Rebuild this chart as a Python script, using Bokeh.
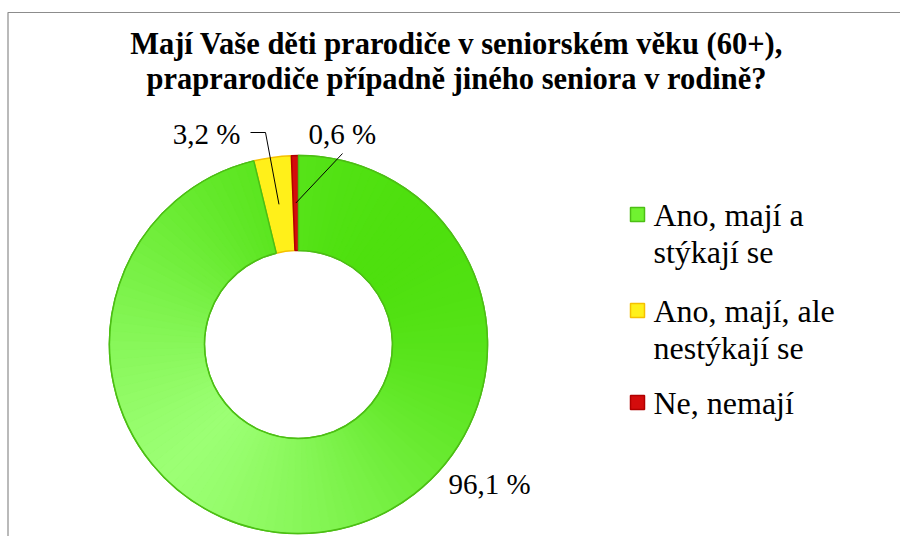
import math
from bokeh.plotting import figure
from bokeh.models import Range1d, ColumnDataSource
from bokeh.embed import file_html
from bokeh.resources import INLINE
from bokeh.core.properties import value

# ---- data ----
title_lines = ["Mají Vaše děti prarodiče v seniorském věku (60+),",
               "praprarodiče případně jiného seniora v rodině?"]
categories = ["Ano, mají a\nstýkají se", "Ano, mají, ale\nnestýkají se", "Ne, nemají"]
shares = [96.1, 3.2, 0.6]
share_labels = ["96,1 %", "3,2 %", "0,6 %"]

# ---- styles / layout ----
fill_colors = ["#70f230", "#fff01a", "#d40c0c"]
line_colors = ["#4cbf14", "#f5c000", "#b00000"]
green_dark, green_light = (0x4e, 0xe0, 0x0e), (0x9c, 0xff, 0x74)
FONT = "Liberation Serif"

W, H = 900, 536
p = figure(width=W, height=H, x_range=Range1d(0, W), y_range=Range1d(0, H),
           output_backend="svg", toolbar_location=None, min_border=0,
           x_axis_location=None, y_axis_location=None)
p.grid.visible = False
p.outline_line_color = None
p.background_fill_color = "white"
p.border_fill_color = "white"

# border (left and top edges)
p.line(x=[7.5, 7.5, W], y=[0, 524, 524], line_color="#8c8c8c", line_width=1.2)

# donut
cx, cy, r_in, r_out = 298, 192, 94, 189
total = sum(shares)
starts, ends, mids = [], [], []
cum = 0.0
for s in shares:
    a0 = math.pi / 2 - 2 * math.pi * cum / total
    cum += s
    a1 = math.pi / 2 - 2 * math.pi * cum / total
    starts.append(a0)
    ends.append(a1)
    mids.append((a0 + a1) / 2)

src = ColumnDataSource(dict(start=starts, end=ends, fill=fill_colors, line=line_colors))
p.annular_wedge(x=cx, y=cy, inner_radius=r_in, outer_radius=r_out,
                start_angle="start", end_angle="end", direction="clock",
                fill_color="fill", line_color="line", line_width=1.5, source=src)

# gradient shading of the first (green) slice: split its own angular span
n_sub = 120
g_s, g_e, g_c = [], [], []
span = starts[0] - ends[0]
for k in range(n_sub):
    a0 = starts[0] - span * k / n_sub
    a1 = starts[0] - span * (k + 1) / n_sub
    am = (a0 + a1) / 2
    t = 0.5 + 0.5 * math.cos(am - math.pi / 4)  # 1 at top-right, 0 at bottom-left
    t = t ** 0.7
    col = tuple(int(round(l + (d - l) * t)) for d, l in zip(green_dark, green_light))
    g_s.append(a0)
    g_e.append(a1)
    g_c.append("#%02x%02x%02x" % col)
p.annular_wedge(x=cx, y=cy, inner_radius=r_in + 1, outer_radius=r_out - 1,
                start_angle=g_s, end_angle=g_e, direction="clock",
                fill_color=g_c, line_color=g_c, line_width=1)
# outline of the green slice on top
p.annular_wedge(x=cx, y=cy, inner_radius=r_in, outer_radius=r_out,
                start_angle=starts[0], end_angle=ends[0], direction="clock",
                fill_color=None, line_color=line_colors[0], line_width=1.5)

# leader lines (anchored on slice mid-angles)
r_mid = (r_in + r_out) / 2
ax = [cx + r_mid * math.cos(a) for a in mids]
ay = [cy + r_mid * math.sin(a) for a in mids]
p.line(x=[250, 265, ax[1]], y=[404, 404, ay[1]], line_color="black", line_width=1)
p.line(x=[342, ax[2]], y=[383, ay[2]], line_color="black", line_width=1)

# data labels
lab_x = [448, 240, 308]
lab_y = [53, 403, 403]
lab_align = ["left", "right", "left"]
p.text(x=lab_x, y=lab_y, text=share_labels, text_align=lab_align,
       text_baseline="middle", text_font=value(FONT), text_font_size="29px",
       text_color="black")

# legend
leg_x, leg_y = 637, [322, 226, 134]
p.rect(x=[leg_x] * 3, y=leg_y, width=14, height=14, width_units="screen",
       height_units="screen", fill_color=fill_colors, line_color=line_colors, line_width=1.5)
tx, ty, tt = [], [], []
for cat, y0 in zip(categories, leg_y):
    for i, line in enumerate(cat.split("\n")):
        tx.append(leg_x + 16)
        ty.append(y0 - 37 * i)
        tt.append(line)
p.text(x=tx, y=ty, text=tt, text_align="left", text_baseline="middle",
       text_font=value(FONT), text_font_size="32px", text_color="black")

# title
p.text(x=[456, 456], y=[493, 458], text=title_lines, text_align="center",
       text_baseline="middle", text_font=value(FONT), text_font_size="30.5px",
       text_font_style="bold", text_color="black")

open("out.html", "w").write(file_html(p, INLINE))
